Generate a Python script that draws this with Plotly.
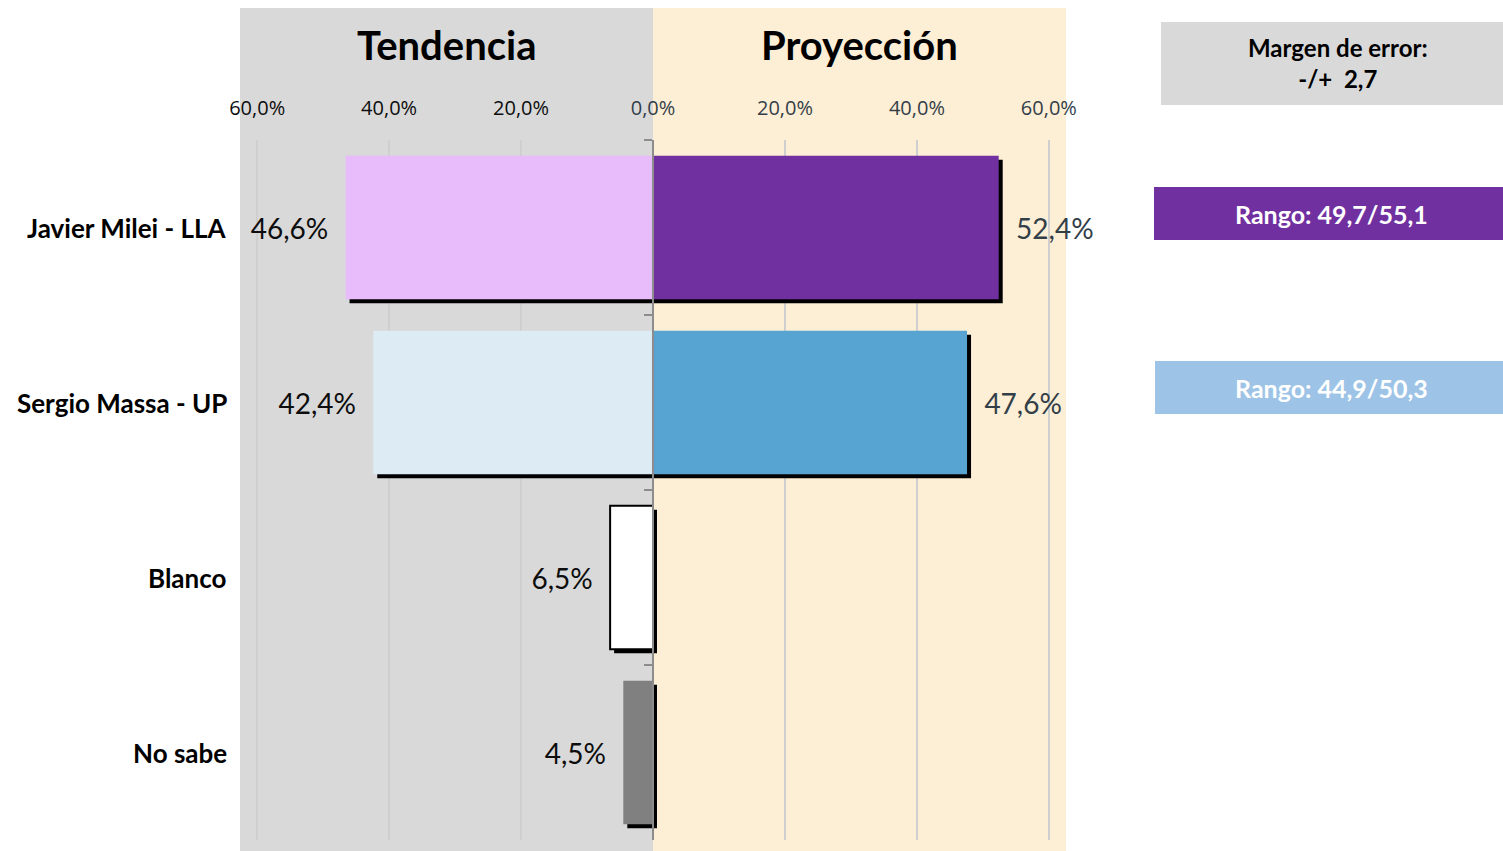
import plotly.graph_objects as go

categories = ["Javier Milei - LLA", "Sergio Massa - UP", "Blanco", "No sabe"]
tendencia = [46.6, 42.4, 6.5, 4.5]
proyeccion = [52.4, 47.6, None, None]
margen_error = 2.7
tick_values = [-60, -40, -20, 0, 20, 40, 60]

left_colors = ["#e8bbfb", "#ddebf5", "#ffffff", "#808080"]
left_line_w = [0, 0, 2, 0]
right_colors = ["#7030a0", "#57a4d3", "#ffffff", "#808080"]
box_colors = ["#7030a0", "#9dc3e6"]

W, H = 1503, 851
ML, MR, MT, MB = 240, 437, 140, 11
PW, PH = W - ML - MR, H - MT - MB
XR = 62.6
SH_DX = 4 * (2 * XR) / PW     # shadow offset (4px) in data units
SH_DY = 4 / (PH / 4)          # shadow offset (4px) in category units
BW = 0.82


def fmt(v):
    return f"{v:.1f}".replace(".", ",") + "%"


def px_x(px):
    return (px - ML) / PW


def px_y(py):
    return (H - MB - py) / PH


NB = "\u00a0"
fig = go.Figure()

# shadows
fig.add_trace(go.Bar(
    y=categories, x=[-v for v in tendencia], base=SH_DX, orientation="h",
    width=BW, offset=-BW / 2 + SH_DY, marker=dict(color="#000000", line=dict(width=0)),
    hoverinfo="skip", showlegend=False))
fig.add_trace(go.Bar(
    y=categories, x=proyeccion, base=SH_DX, orientation="h",
    width=BW, offset=-BW / 2 + SH_DY, marker=dict(color="#000000", line=dict(width=0)),
    hoverinfo="skip", showlegend=False))

# main bars
fig.add_trace(go.Bar(
    y=categories, x=[-v for v in tendencia], orientation="h", width=BW,
    marker=dict(color=left_colors, line=dict(color="#000000", width=left_line_w)),
    text=[fmt(v) + NB * 2 for v in tendencia], textposition="outside",
    textfont=dict(family="Lato", size=28, color="#0d0d0d"),
    cliponaxis=False, showlegend=False, name="Tendencia"))
fig.add_trace(go.Bar(
    y=categories, x=proyeccion, orientation="h", width=BW,
    marker=dict(color=right_colors, line=dict(width=0)),
    text=[(NB * 2 + fmt(v)) if v is not None else "" for v in proyeccion],
    textposition="outside",
    textfont=dict(family="Lato", size=28, color="#333f48"),
    cliponaxis=False, showlegend=False, name="Proyección"))

tick_text = []
for t in tick_values:
    col = "#0d0d0d" if t < 0 else "#333f48"
    tick_text.append(f'<span style="color:{col}">{fmt(abs(t))}</span>')

shapes = [
    dict(type="rect", xref="paper", yref="paper", x0=0, x1=0.5,
         y0=px_y(851), y1=px_y(8), fillcolor="#d9d9d9", line=dict(width=0), layer="below"),
    dict(type="rect", xref="paper", yref="paper", x0=0.5, x1=1,
         y0=px_y(851), y1=px_y(8), fillcolor="#fdeed6", line=dict(width=0), layer="below"),
    dict(type="rect", xref="paper", yref="paper", x0=px_x(1161), x1=px_x(1503),
         y0=px_y(105), y1=px_y(22), fillcolor="#d9d9d9", line=dict(width=0)),
    dict(type="rect", xref="paper", yref="paper", x0=px_x(1154), x1=px_x(1503),
         y0=px_y(240), y1=px_y(187), fillcolor=box_colors[0], line=dict(width=0)),
    dict(type="rect", xref="paper", yref="paper", x0=px_x(1155), x1=px_x(1503),
         y0=px_y(414), y1=px_y(361), fillcolor=box_colors[1], line=dict(width=0)),
]

ann = [
    dict(text="<b>Tendencia</b>", x=0.25, y=px_y(45), xref="paper", yref="paper",
         xanchor="center", yanchor="middle",
         showarrow=False, font=dict(family="Lato", size=40, color="#000000")),
    dict(text="<b>Proyección</b>", x=0.75, y=px_y(45), xref="paper", yref="paper",
         xanchor="center", yanchor="middle",
         showarrow=False, font=dict(family="Lato", size=40, color="#000000")),
    dict(text=f"<b>Margen de error:<br>-/+  {margen_error:.1f}</b>".replace(".", ","),
         x=px_x(1338), y=px_y(63), xref="paper", yref="paper", showarrow=False,
         xanchor="center", yanchor="middle", align="center",
         font=dict(family="Lato", size=24, color="#000000")),
]
for i in range(2):
    lo = proyeccion[i] - margen_error
    hi = proyeccion[i] + margen_error
    txt = f"<b>Rango: {lo:.1f}/{hi:.1f}</b>".replace(".", ",")
    yc = [214, 388][i]
    ann.append(dict(text=txt, x=px_x(1331), y=px_y(yc), xref="paper", yref="paper",
                    xanchor="center", yanchor="middle",
                    showarrow=False, font=dict(family="Lato", size=25, color="#ffffff")))
for c in categories:
    ann.append(dict(text=f"<b>{c}</b>", x=0, y=c, xref="paper", yref="y",
                    xanchor="right", yanchor="middle", xshift=-11, showarrow=False,
                    font=dict(family="Lato", size=26, color="#000000")))

fig.update_layout(
    width=W, height=H, margin=dict(l=ML, r=MR, t=MT, b=MB),
    paper_bgcolor="#ffffff", plot_bgcolor="rgba(0,0,0,0)",
    barmode="overlay", bargap=0.18, showlegend=False,
    shapes=shapes, annotations=ann,
    xaxis=dict(range=[-XR, XR], side="top", tickvals=tick_values, ticktext=tick_text,
               showgrid=True, gridcolor="#cfcfcf", gridwidth=1.5, zeroline=False,
               showline=False, ticks="", ticklabelstandoff=20,
               tickfont=dict(family="Open Sans", size=20), fixedrange=True),
    yaxis=dict(categoryorder="array", categoryarray=categories, range=[3.5, -0.5],
               anchor="free", position=0.5, showticklabels=False, showgrid=False,
               zeroline=False, showline=True, linecolor="#8c8c8c", linewidth=1.5,
               ticks="outside", tickson="boundaries", ticklen=8, tickcolor="#8c8c8c",
               tickwidth=1.5, fixedrange=True),
)

fig.write_html(
    "out.html",
    config={"displayModeBar": False},
    post_script="document.body.style.margin='0';document.body.style.overflow='hidden';",
)
